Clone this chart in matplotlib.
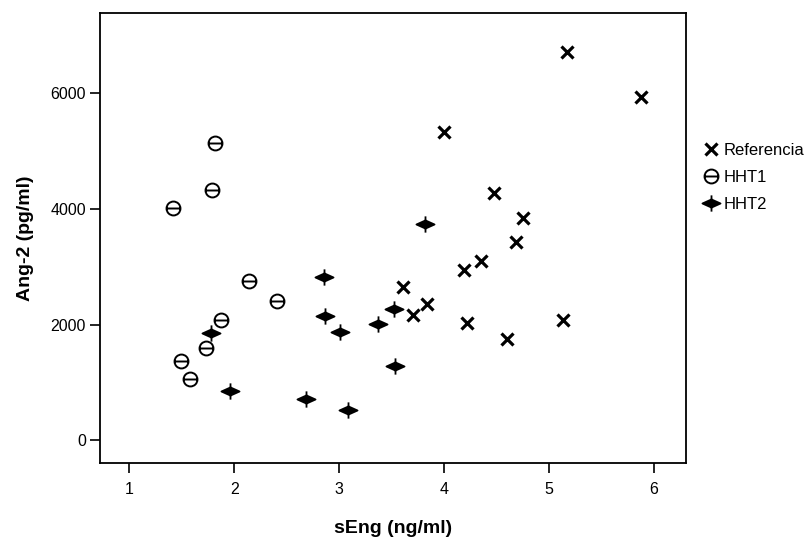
import matplotlib
matplotlib.use("Agg")
import matplotlib.pyplot as plt
from matplotlib.path import Path
import numpy as np

plt.rcParams['font.family'] = ['Liberation Sans', 'DejaVu Sans']

# Data
ref_x = [5.17, 5.88, 4.00, 4.47, 4.75, 4.68, 4.35, 4.19, 3.61, 3.84, 3.70, 4.22, 5.13, 4.60]
ref_y = [6710, 5940, 5320, 4280, 3850, 3430, 3100, 2950, 2650, 2350, 2160, 2030, 2080, 1760]

hht1_x = [1.82, 1.79, 1.42, 2.14, 2.41, 1.87, 1.73, 1.49, 1.58]
hht1_y = [5130, 4320, 4020, 2760, 2400, 2080, 1590, 1380, 1060]

hht2_x = [3.82, 2.85, 2.86, 3.01, 3.37, 3.52, 1.78, 3.53, 1.96, 2.68, 3.08]
hht2_y = [3740, 2830, 2150, 1870, 2010, 2270, 1850, 1280, 860, 710, 520]

labels = ['Referencia', 'HHT1', 'HHT2']
xticks = [1, 2, 3, 4, 5, 6]
yticks = [0, 2000, 4000, 6000]

# custom markers
circ = Path.unit_circle()
hline = Path([[-1, 0], [1, 0]], [Path.MOVETO, Path.LINETO])
theta_marker = Path.make_compound_path(circ, hline)

diamond = Path([[-1, 0], [0, 0.45], [1, 0], [0, -0.45], [-1, 0]],
               [Path.MOVETO, Path.LINETO, Path.LINETO, Path.LINETO, Path.CLOSEPOLY])
vline = Path([[0, -0.9], [0, 0.9]], [Path.MOVETO, Path.LINETO])
star_marker = Path.make_compound_path(diamond, vline)

fig = plt.figure(figsize=(8.11, 5.45), dpi=100)
ax = fig.add_axes([0.1233, 0.1505, 0.7220, 0.8253])

ax.plot(ref_x, ref_y, linestyle='none', marker='x', markersize=9, markeredgewidth=2.3,
        color='black', label=labels[0])
ax.plot(hht1_x, hht1_y, linestyle='none', marker=theta_marker, markersize=10,
        markeredgewidth=1.4, markerfacecolor='none', markeredgecolor='black', label=labels[1])
ax.plot(hht2_x, hht2_y, linestyle='none', marker=star_marker, markersize=13,
        markeredgewidth=1.3, markerfacecolor='black', markeredgecolor='black', label=labels[2])

ax.set_xlim(0.72, 6.30)
ax.set_ylim(-390, 7380)
ax.set_xticks(xticks)
ax.set_yticks(yticks)
ax.tick_params(axis='both', direction='out', length=7, width=1.2, labelsize=11.5, colors='black')
ax.tick_params(axis='x', pad=7)
ax.tick_params(axis='y', pad=3)
for s in ax.spines.values():
    s.set_linewidth(1.3)

ax.set_xlabel('sEng (ng/ml)', fontsize=14, fontweight='bold', labelpad=16)
ax.set_ylabel('Ang-2 (pg/ml)', fontsize=14, fontweight='bold', labelpad=12)

leg = ax.legend(loc='center left', bbox_to_anchor=(1.019, 0.634), frameon=False,
                fontsize=12, handlelength=0.9, handletextpad=0.3, labelspacing=0.72,
                borderaxespad=0)

fig.savefig('out.png', dpi=100)
